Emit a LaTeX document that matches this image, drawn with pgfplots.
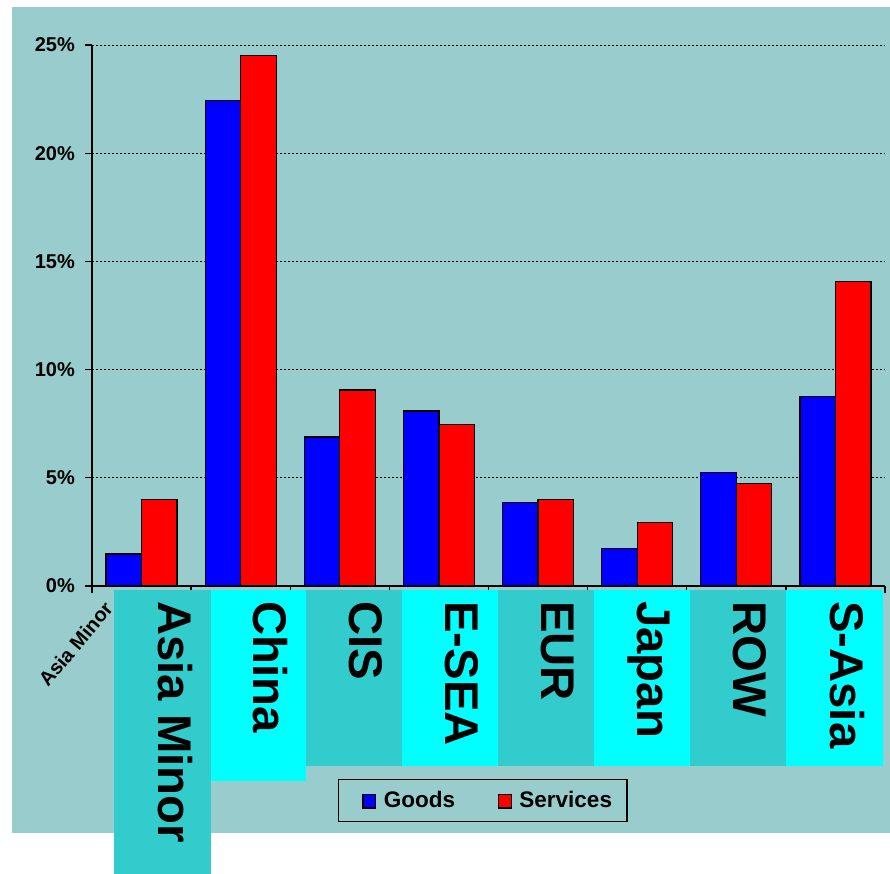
\documentclass[border=0pt]{standalone}
\usepackage{fontspec}
\setmainfont{Liberation Sans}
\usepackage{pgfplots}
\usepackage{pgfplotstable}
\pgfplotsset{compat=1.18}

\definecolor{panel}{HTML}{99CCCC}
\definecolor{boxteal}{HTML}{33CCCC}
\definecolor{boxcyan}{HTML}{00FFFF}
\definecolor{goods}{HTML}{0000FF}
\definecolor{services}{HTML}{FF0000}

\pgfplotstableread{
x  goods  services
0  1.48   4.01
1  22.42  24.53
2  6.89   9.06
3  8.09   7.47
4  3.85   4.01
5  1.72   2.94
6  5.25   4.75
7  8.75   14.07
}\shares

% square legend swatch
\pgfplotsset{sqlegend/.style={legend image code/.code={\path (0pt,0pt);
    \draw[##1, line width=1.2pt] (9pt,-7.5pt) rectangle (21.6pt,6pt);}}}

\tikzset{
  catlabel/.style={rotate=-90, anchor=west, inner sep=0pt,
    text height=0.716em, text depth=0pt,
    font=\bfseries\fontsize{47.3}{47.3}\selectfont}
}

\begin{document}
\begin{tikzpicture}[x=1pt,y=1pt]
\useasboundingbox (0,0) rectangle (890,-873);
\fill[white] (0,0) rectangle (890,-873);
\fill[panel] (12,-7) rectangle (890,-833);

% small leftover label of the first category, partly hidden by its box
\node[rotate=50, anchor=base west, inner sep=0pt,
      font=\bfseries\fontsize{20}{20}\selectfont] at (48,-688) {Asia Minor};

\begin{axis}[
  at={(92pt,-586pt)}, anchor=south west,
  scale only axis, width=793pt, height=541pt,
  xmin=-0.5, xmax=7.5, ymin=0, ymax=25,
  axis lines=left, axis line style={-, black, line width=1.5pt},
  xtick={-0.5,0.5,...,7.5}, xticklabels={{}},
  ytick={0,5,...,25},
  yticklabel={\pgfmathprintnumber{\tick}\%},
  /pgf/number format/assume math mode=true,
  yticklabel style={font=\bfseries\fontsize{20}{20}\selectfont, anchor=east,
    inner sep=0pt, xshift=-10pt},
  tick align=outside, major tick length=7pt,
  tick style={black, line width=1.3pt},
  ymajorgrids, grid style={black, line width=0.8pt, dash pattern=on 2pt off 2pt},
  ybar=0pt, bar width=35.5pt,
  legend columns=2,
  legend style={at={(0.4927,-0.3965)}, anchor=center,
    draw=black, line width=1.2pt, fill=none,
    inner xsep=15pt, inner ysep=12pt,
    nodes={inner sep=0pt},
    font=\bfseries\fontsize{22.5}{22.5}\selectfont,
    /tikz/every odd column/.append style={column sep=7.7pt},
    /tikz/every even column/.append style={column sep=33.7pt}},
]
\addplot[fill=goods, draw=black, line width=1.3pt, sqlegend]
  table[x=x, y=goods] {\shares};
\addlegendentry{Goods}
\addplot[fill=services, draw=black, line width=1.3pt, sqlegend]
  table[x=x, y=services] {\shares};
\addlegendentry{Services}
\end{axis}

% category label boxes
\fill[boxteal] (114,-590)   rectangle (210.5,-880);
\fill[boxcyan] (210.5,-590) rectangle (306,-781);
\fill[boxteal] (306,-590)   rectangle (402,-766);
\fill[boxcyan] (402,-590)   rectangle (498.3,-766);
\fill[boxteal] (498.3,-590) rectangle (594,-766);
\fill[boxcyan] (594,-590)   rectangle (690,-766);
\fill[boxteal] (690,-590)   rectangle (786,-766);
\fill[boxcyan] (786,-590)   rectangle (883.3,-766);

\node[catlabel] at (162,-601)   {Asia Minor};
\node[catlabel] at (257.5,-601) {China};
\node[catlabel] at (353,-601)   {CIS};
\node[catlabel] at (449.5,-601) {E-SEA};
\node[catlabel] at (545.5,-601) {EUR};
\node[catlabel] at (641.5,-601) {Japan};
\node[catlabel] at (737.5,-601) {ROW};
\node[catlabel] at (834,-601)   {S-Asia};
\end{tikzpicture}
\end{document}
